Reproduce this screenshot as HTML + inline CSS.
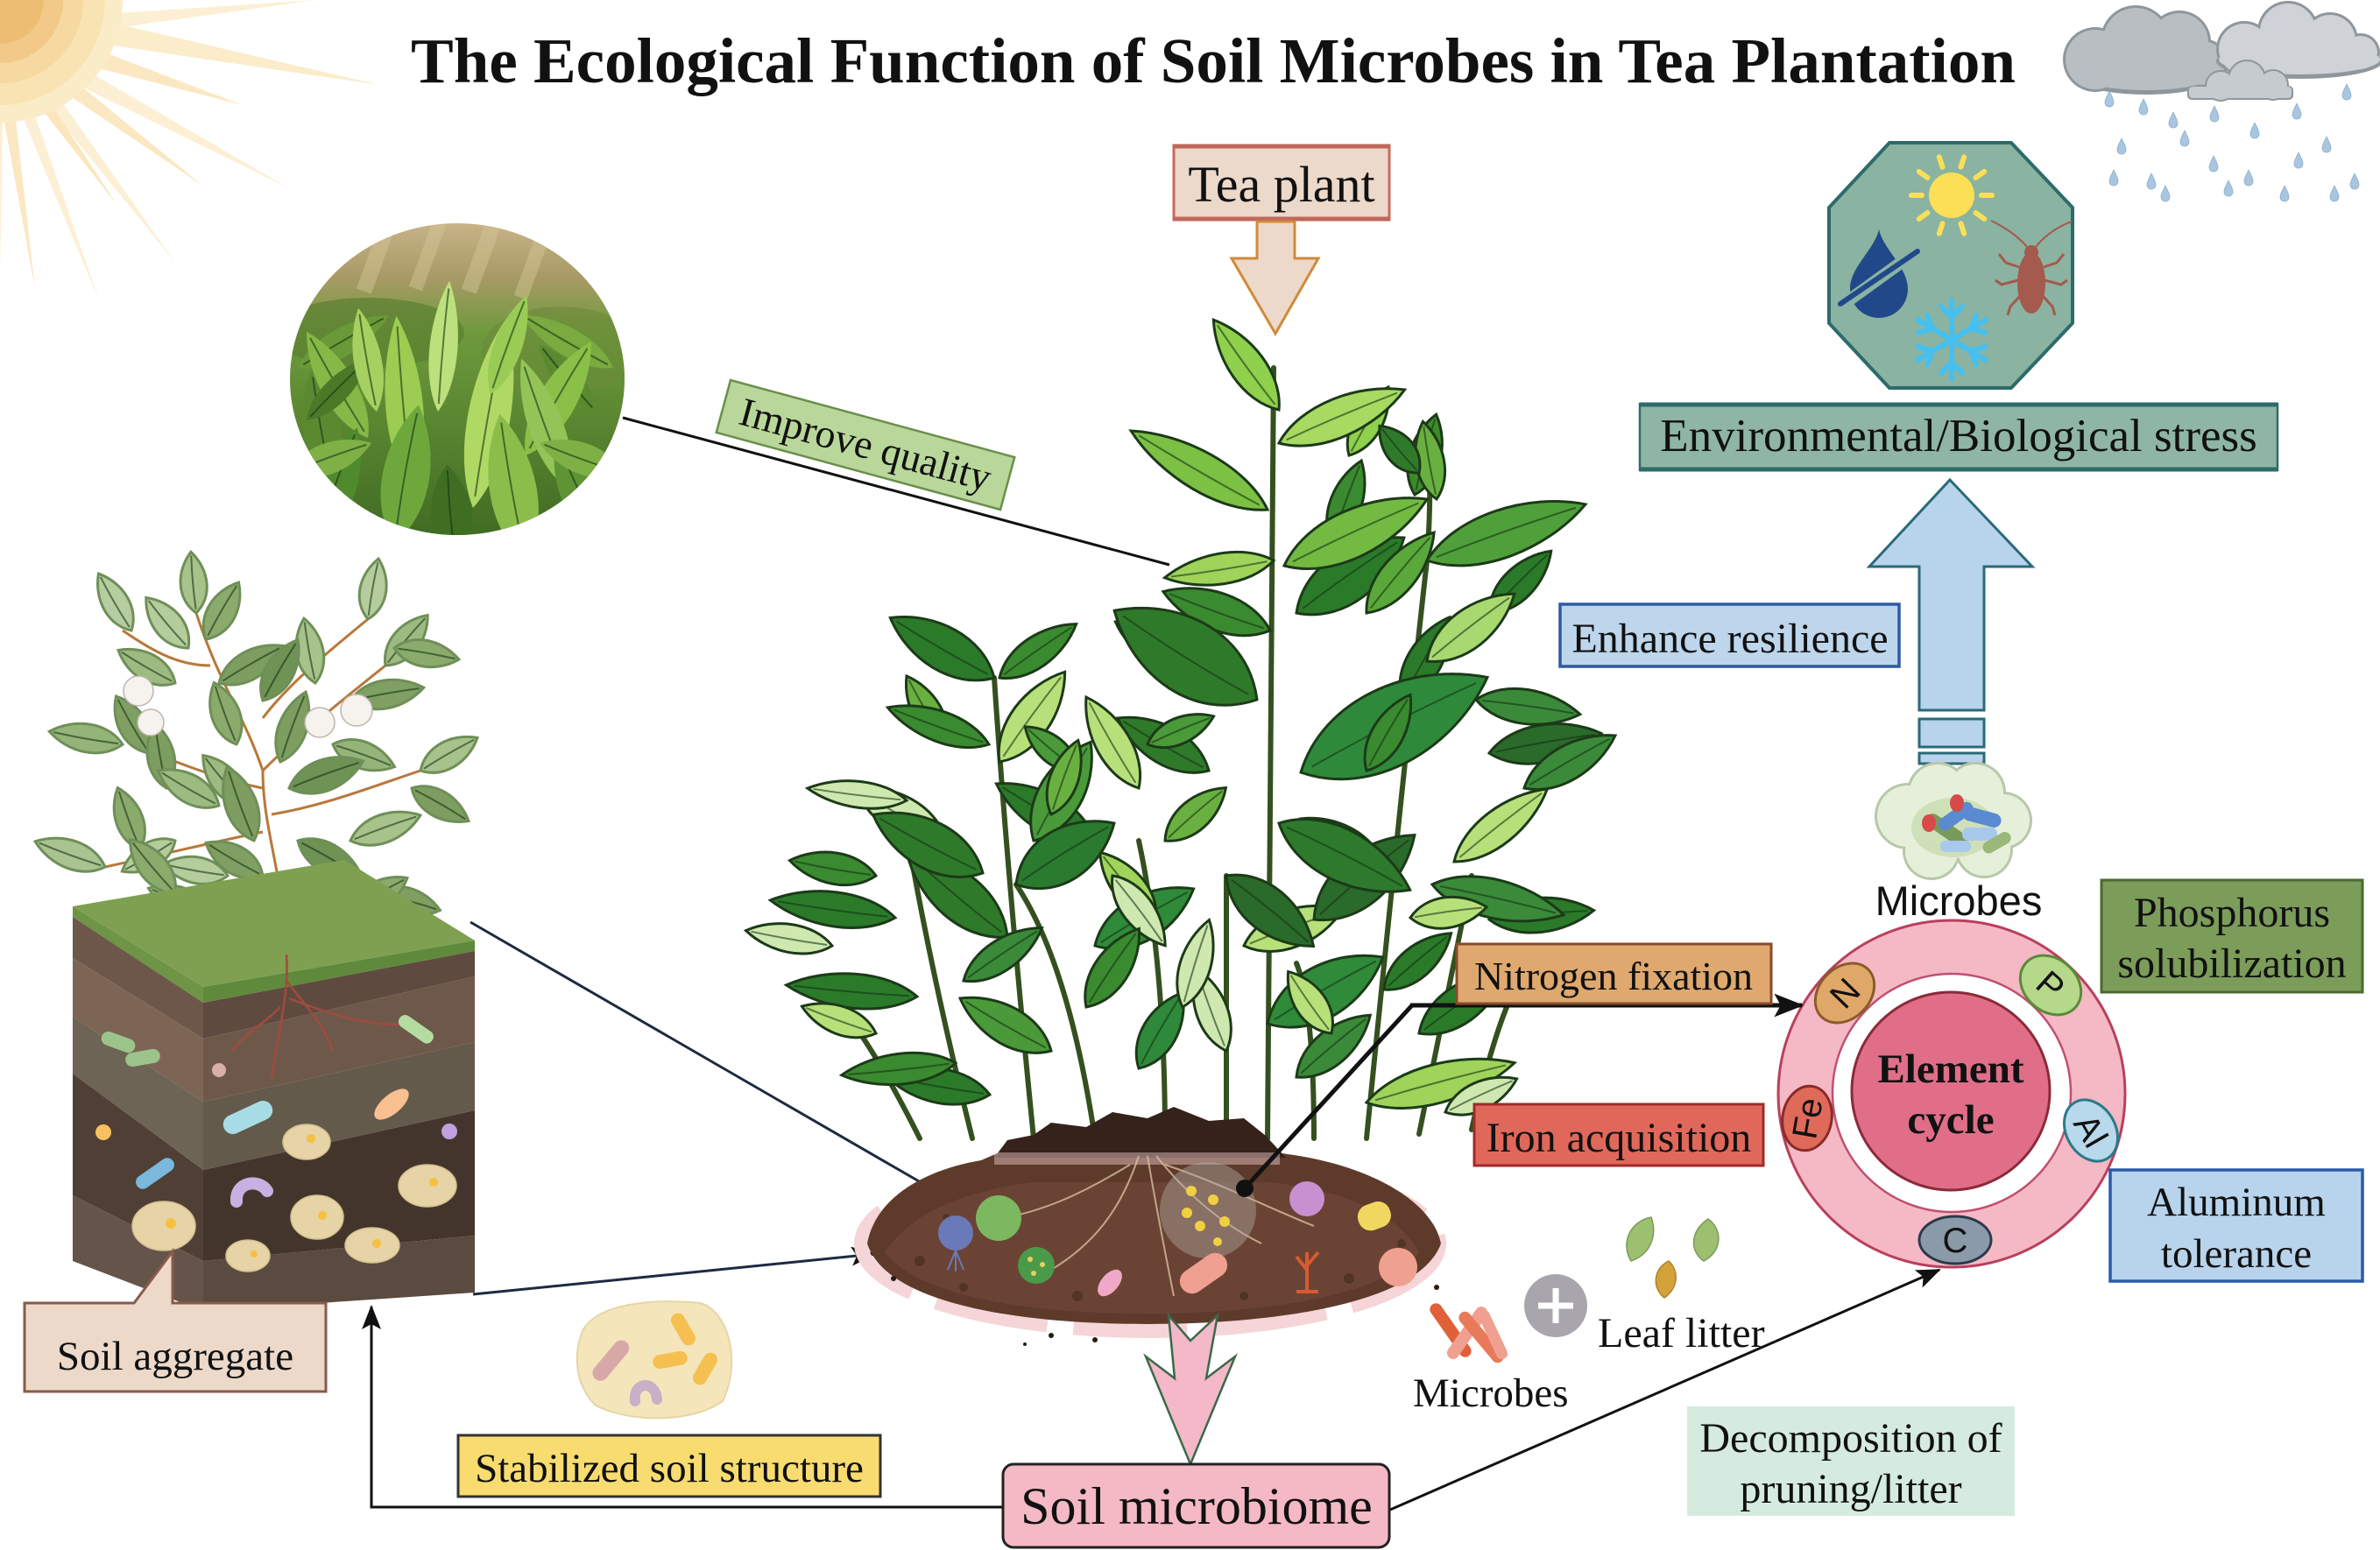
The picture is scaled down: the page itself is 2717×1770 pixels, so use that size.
<!DOCTYPE html>
<html><head><meta charset="utf-8"><title>The Ecological Function of Soil Microbes in Tea Plantation</title>
<style>
html,body{margin:0;padding:0;background:#fff;}
body{width:2717px;height:1770px;overflow:hidden;}
svg{display:block;}
.serif{font-family:"Liberation Serif","Times New Roman",serif;fill:#111;}
.sans{font-family:"Liberation Sans",Arial,sans-serif;fill:#111;}
</style></head>
<body>
<svg width="2717" height="1770" viewBox="0 0 2717 1770" xmlns="http://www.w3.org/2000/svg">
<defs>
  <g id="lf">
    <path d="M0,0 C25,-50 70,-45 100,0 C70,45 25,50 0,0 Z" vector-effect="non-scaling-stroke" stroke-width="3"/>
    <path d="M6,0 Q50,-4 94,0" fill="none" stroke="#163214" stroke-opacity="0.6" stroke-width="2" vector-effect="non-scaling-stroke"/>
  </g>
  <path id="drop" d="M0,-9 C3,-3 5,1 5,4 A5,5 0 0 1 -5,4 C-5,1 -3,-3 0,-9 Z" fill="#a9c6e0" stroke="#8fb0cc" stroke-width="0.8"/>
  <marker id="ah" viewBox="0 0 28 22" markerWidth="28" markerHeight="22" refX="26" refY="11" orient="auto" markerUnits="userSpaceOnUse">
    <path d="M0,0 L28,11 L0,22 L6,11 Z" fill="#111"/>
  </marker>
  <marker id="ah2" viewBox="0 0 28 22" markerWidth="34" markerHeight="28" refX="26" refY="11" orient="auto" markerUnits="userSpaceOnUse">
    <path d="M0,0 L28,11 L0,22 L6,11 Z" fill="#111"/>
  </marker>
  <linearGradient id="photoBg" x1="0" y1="0" x2="0" y2="1">
    <stop offset="0" stop-color="#c9b58a"/>
    <stop offset="0.18" stop-color="#a89a66"/>
    <stop offset="0.35" stop-color="#6e9a3c"/>
    <stop offset="1" stop-color="#3f6a22"/>
  </linearGradient>
  <clipPath id="photoClip"><ellipse cx="522" cy="433" rx="191" ry="178"/></clipPath>
</defs>

<rect width="2717" height="1770" fill="#fff"/>

<!-- SUN -->
<g>
  <polygon fill="#fcefd3" points="60,20 360,0 75,40"/>
  <polygon fill="#fbecca" points="68,12 433,97 62,42"/>
  <polygon fill="#fbe8c2" points="62,38 277,120 50,62"/>
  <polygon fill="#fcefd4" points="55,55 330,215 38,72"/>
  <polygon fill="#fbe8c2" points="48,62 233,213 30,76"/>
  <polygon fill="#fcefd4" points="38,70 200,300 22,80"/>
  <polygon fill="#fbe6bd" points="30,76 133,233 14,82"/>
  <polygon fill="#fcefd4" points="22,80 113,343 6,86"/>
  <polygon fill="#fbe8c2" points="12,84 40,330 -5,85"/>
  <polygon fill="#fcefd4" points="4,86 0,313 -10,86"/>
  <circle cx="0" cy="0" r="140" fill="#fbecc8"/>
  <circle cx="0" cy="0" r="120" fill="#f9e3b2"/>
  <circle cx="0" cy="0" r="95" fill="#f6d9a0"/>
  <circle cx="0" cy="0" r="72" fill="#f2c988"/>
  <circle cx="0" cy="0" r="50" fill="#eebd74"/>
</g>

<!-- CLOUDS -->
<g>
  <g fill="#8f969c">
    <circle cx="2392" cy="68" r="37"/><circle cx="2438" cy="46" r="40"/><circle cx="2488" cy="48" r="36"/><circle cx="2515" cy="72" r="28"/>
    <ellipse cx="2450" cy="82" rx="90" ry="26"/>
  </g>
  <g fill="#b9bec3">
    <circle cx="2392" cy="68" r="34"/><circle cx="2438" cy="46" r="37"/><circle cx="2488" cy="48" r="33"/><circle cx="2515" cy="72" r="25"/>
    <ellipse cx="2450" cy="80" rx="87" ry="23"/>
  </g>
  <g fill="#8f969c">
    <circle cx="2562" cy="56" r="32"/><circle cx="2612" cy="36" r="35"/><circle cx="2660" cy="46" r="32"/><circle cx="2695" cy="60" r="22"/>
    <ellipse cx="2625" cy="70" rx="95" ry="20"/>
  </g>
  <g fill="#cfd3d7">
    <circle cx="2562" cy="56" r="29"/><circle cx="2612" cy="36" r="32"/><circle cx="2660" cy="46" r="29"/><circle cx="2695" cy="60" r="19"/>
    <ellipse cx="2625" cy="68" rx="92" ry="17"/>
  </g>
  <g fill="#8f969c">
    <circle cx="2535" cy="98" r="18"/><circle cx="2565" cy="90" r="22"/><circle cx="2595" cy="97" r="18"/>
    <rect x="2497" y="98" width="121" height="16" rx="5"/>
  </g>
  <g fill="#c6cbcf">
    <circle cx="2535" cy="98" r="16"/><circle cx="2565" cy="90" r="20"/><circle cx="2595" cy="97" r="16"/>
    <rect x="2499" y="99" width="117" height="13" rx="4"/>
  </g>
  <use href="#drop" x="2408" y="113"/><use href="#drop" x="2447" y="122"/><use href="#drop" x="2481" y="137"/>
  <use href="#drop" x="2494" y="158"/><use href="#drop" x="2422" y="167"/><use href="#drop" x="2413" y="203"/>
  <use href="#drop" x="2456" y="207"/><use href="#drop" x="2472" y="221"/><use href="#drop" x="2528" y="130"/>
  <use href="#drop" x="2527" y="187"/><use href="#drop" x="2544" y="215"/><use href="#drop" x="2567" y="203"/>
  <use href="#drop" x="2574" y="149"/><use href="#drop" x="2622" y="127"/><use href="#drop" x="2624" y="183"/>
  <use href="#drop" x="2608" y="221"/><use href="#drop" x="2656" y="165"/><use href="#drop" x="2665" y="221"/>
  <use href="#drop" x="2679" y="105"/><use href="#drop" x="2688" y="207"/>
</g>

<!-- TITLE -->
<text x="1385" y="94" text-anchor="middle" class="serif" font-size="73" font-weight="bold">The Ecological Function of Soil Microbes in Tea Plantation</text>

<!-- TEA PLANT box + arrow -->
<rect x="1340" y="166" width="246" height="85" fill="#ecd9ca" stroke="#c86a5a" stroke-width="3"/>
<line x1="1340" y1="167" x2="1586" y2="167" stroke="#c0665a" stroke-width="5"/>
<line x1="1340" y1="250" x2="1586" y2="250" stroke="#c0665a" stroke-width="5"/>
<text x="1463" y="230" text-anchor="middle" class="serif" font-size="58">Tea plant</text>
<polygon points="1435,253 1478,253 1478,295 1505,295 1456,381 1406,295 1435,295" fill="#ecd9ca" stroke="#d08a3a" stroke-width="3"/>

<!-- PHOTO -->
<g clip-path="url(#photoClip)">
  <rect x="320" y="250" width="410" height="370" fill="url(#photoBg)"/>
  <g opacity="0.45" fill="#d8c79a">
    <rect x="420" y="255" width="18" height="80" transform="rotate(20 429 295)"/>
    <rect x="480" y="252" width="16" height="80" transform="rotate(20 488 292)"/>
    <rect x="540" y="255" width="18" height="80" transform="rotate(20 549 295)"/>
    <rect x="600" y="262" width="16" height="80" transform="rotate(20 608 302)"/>
  </g>
  <ellipse cx="420" cy="380" rx="110" ry="40" fill="#5b7f30" opacity="0.7"/>
  <ellipse cx="640" cy="400" rx="90" ry="50" fill="#6a8a38" opacity="0.6"/>
  <g stroke="none">
    <use href="#lf" transform="translate(340,420) rotate(-30) scale(1.2,0.45)" fill="#6a9a38"/>
    <use href="#lf" transform="translate(700,420) rotate(-150) scale(1.2,0.45)" fill="#7aaa40"/>
    <use href="#lf" transform="translate(380,560) rotate(-100) scale(1.4,0.6)" fill="#5a8a30"/>
    <use href="#lf" transform="translate(420,500) rotate(-120) scale(1.4,0.55)" fill="#86b848"/>
    <use href="#lf" transform="translate(350,480) rotate(-45) scale(1.0,0.4)" fill="#4a7a28"/>
    <use href="#lf" transform="translate(680,470) rotate(-130) scale(1.0,0.4)" fill="#5a8a30"/>
    <use href="#lf" transform="translate(600,520) rotate(-60) scale(1.5,0.6)" fill="#8ac048"/>
    <use href="#lf" transform="translate(470,560) rotate(-95) scale(2.0,0.6)" fill="#9ccc52"/>
    <use href="#lf" transform="translate(540,580) rotate(-80) scale(2.2,0.68)" fill="#b0d864"/>
    <use href="#lf" transform="translate(650,560) rotate(-110) scale(1.6,0.55)" fill="#94c458"/>
    <use href="#lf" transform="translate(500,470) rotate(-85) scale(1.5,0.45)" fill="#bce07c"/>
    <use href="#lf" transform="translate(560,450) rotate(-70) scale(1.2,0.45)" fill="#9acb55"/>
    <use href="#lf" transform="translate(430,470) rotate(-100) scale(1.2,0.45)" fill="#a6d060"/>
    <use href="#lf" transform="translate(450,620) rotate(-80) scale(1.6,0.75)" fill="#6ea83c"/>
    <use href="#lf" transform="translate(600,640) rotate(-100) scale(1.7,0.75)" fill="#8bbd4a"/>
    <use href="#lf" transform="translate(360,620) rotate(-70) scale(1.4,0.65)" fill="#4f8a2c"/>
    <use href="#lf" transform="translate(690,620) rotate(-115) scale(1.3,0.65)" fill="#5f9434"/>
    <use href="#lf" transform="translate(520,640) rotate(-95) scale(1.1,0.65)" fill="#3f6e22"/>
    <use href="#lf" transform="translate(330,540) rotate(-20) scale(1.0,0.5)" fill="#7fb046"/>
    <use href="#lf" transform="translate(710,540) rotate(-160) scale(1.0,0.5)" fill="#7fb046"/>
  </g>
</g>

<!-- Photo -> plant line -->
<line x1="711" y1="477" x2="1335" y2="645" stroke="#111" stroke-width="3"/>
<!-- Improve quality -->
<g transform="translate(988,508) rotate(15.2)">
  <rect x="-168" y="-31" width="336" height="62" fill="#b9d79a" stroke="#6a8f4a" stroke-width="2.5"/>
  <text x="0" y="15" text-anchor="middle" class="serif" font-size="46">Improve quality</text>
</g>

<!-- OCTAGON -->
<polygon points="2157,163 2296,163 2366,237 2366,369 2296,443 2157,443 2088,369 2088,237" fill="#8ab3a2" stroke="#2e6b6b" stroke-width="4"/>
<g stroke="#fbdf57" stroke-width="6" stroke-linecap="round">
  <line x1="2217.5" y1="190.7" x2="2213.8" y2="179.3"/><line x1="2238.5" y1="190.7" x2="2242.2" y2="179.3"/>
  <line x1="2255.5" y1="203" x2="2265.2" y2="196"/><line x1="2262" y1="223" x2="2274" y2="223"/>
  <line x1="2255.5" y1="243" x2="2265.2" y2="250"/><line x1="2238.5" y1="255.3" x2="2242.2" y2="266.7"/>
  <line x1="2217.5" y1="255.3" x2="2213.8" y2="266.7"/><line x1="2200.5" y1="243" x2="2190.8" y2="250"/>
  <line x1="2194" y1="223" x2="2182" y2="223"/><line x1="2200.5" y1="203" x2="2190.8" y2="196"/>
</g>
<circle cx="2228" cy="223" r="26" fill="#fbdf57"/>
<path d="M2145,262 C2150,285 2178,305 2178,330 A33,33 0 0 1 2112,330 C2112,305 2140,285 2145,262 Z" fill="#21498a"/>
<line x1="2098" y1="352" x2="2192" y2="284" stroke="#8ab3a2" stroke-width="14"/>
<line x1="2101" y1="347" x2="2189" y2="287" stroke="#21498a" stroke-width="6" stroke-linecap="round"/>
<g fill="#a45a4c" stroke="#a45a4c">
  <ellipse cx="2319" cy="323" rx="16" ry="35" stroke="none"/>
  <circle cx="2319" cy="288" r="8" stroke="none"/>
  <path d="M2315,283 Q2300,265 2273,252 M2323,283 Q2340,262 2365,253" fill="none" stroke-width="2"/>
  <path d="M2305,305 L2290,300 L2282,290 M2333,305 L2348,300 L2356,290 M2304,320 L2285,325 L2278,320 M2334,320 L2353,325 L2360,320 M2306,338 L2295,350 L2292,360 M2332,338 L2343,350 L2346,360" fill="none" stroke-width="3"/>
</g>
<g stroke="#45c0f0" stroke-width="6" stroke-linecap="round" fill="none">
  <line x1="2228" y1="343" x2="2228" y2="433"/>
  <line x1="2189" y1="365" x2="2267" y2="411"/>
  <line x1="2189" y1="411" x2="2267" y2="365"/>
  <path d="M2216,350 L2228,362 L2240,350 M2216,426 L2228,414 L2240,426"/>
  <path d="M2190,380 L2206,375 L2200,360 M2266,396 L2250,401 L2256,416"/>
  <path d="M2190,396 L2206,401 L2200,416 M2266,380 L2250,375 L2256,360"/>
</g>

<!-- ENV STRESS -->
<rect x="1872" y="461" width="728" height="76" fill="#8fb5a5" stroke="#2e6b6b" stroke-width="2.5"/>
<line x1="1872" y1="462" x2="2600" y2="462" stroke="#2e6b6b" stroke-width="5"/>
<line x1="1872" y1="536" x2="2600" y2="536" stroke="#2e6b6b" stroke-width="5"/>
<text x="2236" y="515" text-anchor="middle" class="serif" font-size="53">Environmental/Biological stress</text>

<!-- BLUE UP ARROW -->
<polygon points="2226,548 2320,647 2265,647 2265,811 2191,811 2191,647 2134,647" fill="#b8d4ec" stroke="#2a6a78" stroke-width="3"/>
<rect x="2191" y="821" width="74" height="32" fill="#b8d4ec" stroke="#2a6a78" stroke-width="3"/>
<rect x="2191" y="860" width="74" height="12" fill="#b8d4ec" stroke="#2a6a78" stroke-width="3"/>

<!-- Enhance resilience -->
<rect x="1781" y="690" width="387" height="71" fill="#bdd6ec" stroke="#2e5aa0" stroke-width="3.5"/>
<text x="1975" y="745" text-anchor="middle" class="serif" font-size="48">Enhance resilience</text>

<!-- Microbes cluster -->
<g>
  <g fill="#b8c8a8">
    <circle cx="2178" cy="932" r="38"/><circle cx="2212" cy="905" r="35"/><circle cx="2255" cy="905" r="35"/>
    <circle cx="2287" cy="937" r="33"/><circle cx="2265" cy="970" r="33"/><circle cx="2205" cy="972" r="33"/>
  </g>
  <g fill="#e6efda">
    <circle cx="2178" cy="932" r="35"/><circle cx="2212" cy="905" r="32"/><circle cx="2255" cy="905" r="32"/>
    <circle cx="2287" cy="937" r="30"/><circle cx="2265" cy="970" r="30"/><circle cx="2205" cy="972" r="30"/>
    <circle cx="2230" cy="940" r="40"/>
  </g>
  <ellipse cx="2230" cy="945" rx="48" ry="34" fill="#cfe0b8"/>
  <rect x="2195" y="940" width="55" height="16" rx="8" fill="#7a9a5a" transform="rotate(35 2222 948)"/>
  <rect x="2210" y="925" width="45" height="15" rx="7" fill="#5a8ad0" transform="rotate(-35 2232 932)"/>
  <rect x="2240" y="925" width="45" height="16" rx="8" fill="#5a8ad0" transform="rotate(15 2262 933)"/>
  <rect x="2240" y="945" width="40" height="15" rx="7" fill="#a8c8ec"/>
  <rect x="2215" y="960" width="35" height="13" rx="6" fill="#a8c8ec"/>
  <rect x="2262" y="955" width="35" height="14" rx="7" fill="#9ab878" transform="rotate(-30 2280 962)"/>
  <ellipse cx="2202" cy="940" rx="8" ry="10" fill="#d84a4a"/>
  <ellipse cx="2234" cy="917" rx="8" ry="10" fill="#d84a4a"/>
</g>
<text x="2236" y="1045" text-anchor="middle" class="sans" font-size="47">Microbes</text>

<!-- ELEMENT RING -->
<circle cx="2228" cy="1249" r="198" fill="#f4b9c4" stroke="#b8405c" stroke-width="3"/>
<circle cx="2228" cy="1248" r="136" fill="#fff" stroke="#c05070" stroke-width="2.5"/>
<circle cx="2227" cy="1246" r="113" fill="#e06e88" stroke="#8b2a3a" stroke-width="3"/>
<text x="2227" y="1236" text-anchor="middle" class="serif" font-size="47" font-weight="bold">Element</text>
<text x="2227" y="1294" text-anchor="middle" class="serif" font-size="47" font-weight="bold">cycle</text>
<g font-family="Liberation Sans, Arial, sans-serif" font-size="40" fill="#111" text-anchor="middle">
  <ellipse cx="2106" cy="1134" rx="38" ry="29" transform="rotate(-46 2106 1134)" fill="#e0a868" stroke="#8a5a2a" stroke-width="3"/>
  <text transform="translate(2106,1134) rotate(-46)" y="14">N</text>
  <ellipse cx="2341" cy="1125" rx="38" ry="30" transform="rotate(42 2341 1125)" fill="#b5d88a" stroke="#5a8a3a" stroke-width="3"/>
  <text transform="translate(2341,1125) rotate(42)" y="14">P</text>
  <ellipse cx="2063" cy="1277" rx="37" ry="28" transform="rotate(-80 2063 1277)" fill="#e06a5a" stroke="#8a2a2a" stroke-width="3"/>
  <text transform="translate(2063,1277) rotate(-80)" y="14">Fe</text>
  <ellipse cx="2387" cy="1291" rx="37" ry="28" transform="rotate(60 2387 1291)" fill="#b8d8ec" stroke="#2a7a8a" stroke-width="3"/>
  <text transform="translate(2387,1291) rotate(60)" y="14">Al</text>
  <ellipse cx="2232" cy="1416" rx="41" ry="27" fill="#8a9aa8" stroke="#2a3a4a" stroke-width="3"/>
  <text x="2232" y="1430">C</text>
</g>

<!-- Phosphorus -->
<rect x="2399" y="1005" width="298" height="128" fill="#7c9c5a" stroke="#4a6a30" stroke-width="3"/>
<text x="2548" y="1058" text-anchor="middle" class="serif" font-size="48">Phosphorus</text>
<text x="2548" y="1116" text-anchor="middle" class="serif" font-size="48">solubilization</text>
<!-- Aluminum -->
<rect x="2409" y="1336" width="288" height="127" fill="#b8d4ec" stroke="#2a5aa8" stroke-width="3.5"/>
<text x="2553" y="1388" text-anchor="middle" class="serif" font-size="47">Aluminum</text>
<text x="2553" y="1447" text-anchor="middle" class="serif" font-size="47">tolerance</text>

<!-- SOIL BLOCK -->
<g>
  <g fill="none" stroke="#b8783a" stroke-width="3">
    <path d="M327,1095 C325,1000 300,950 300,880"/>
    <path d="M300,880 C280,820 250,780 224,700"/>
    <path d="M300,880 C340,840 390,800 440,760"/>
    <path d="M300,900 C250,890 200,870 150,850"/>
    <path d="M300,950 C250,960 190,975 120,990"/>
    <path d="M310,930 C370,920 420,900 480,880"/>
    <path d="M300,820 C330,780 380,740 420,707"/>
    <path d="M240,760 C200,760 170,740 140,720"/>
  </g>
  <g stroke="#6f8f58">
    <use href="#lf" transform="translate(224,700) rotate(-95) scale(0.7,0.42)" fill="#a7c28b"/>
    <use href="#lf" transform="translate(235,730) rotate(-60) scale(0.75,0.45)" fill="#8aab6c"/>
    <use href="#lf" transform="translate(215,740) rotate(-130) scale(0.75,0.45)" fill="#b5cc9c"/>
    <use href="#lf" transform="translate(250,780) rotate(-30) scale(0.85,0.45)" fill="#7d9e60"/>
    <use href="#lf" transform="translate(200,780) rotate(-150) scale(0.75,0.43)" fill="#9dbb80"/>
    <use href="#lf" transform="translate(150,720) rotate(-120) scale(0.75,0.42)" fill="#b6cda0"/>
    <use href="#lf" transform="translate(140,850) rotate(-170) scale(0.85,0.45)" fill="#94b47a"/>
    <use href="#lf" transform="translate(170,860) rotate(-120) scale(0.75,0.45)" fill="#7fa062"/>
    <use href="#lf" transform="translate(120,990) rotate(-160) scale(0.85,0.45)" fill="#a9c391"/>
    <use href="#lf" transform="translate(160,970) rotate(-110) scale(0.75,0.43)" fill="#8aab6c"/>
    <use href="#lf" transform="translate(200,960) rotate(150) scale(0.7,0.4)" fill="#b5cc9c"/>
    <use href="#lf" transform="translate(440,760) rotate(-50) scale(0.75,0.43)" fill="#9dbb80"/>
    <use href="#lf" transform="translate(420,707) rotate(-80) scale(0.7,0.42)" fill="#b5cc9c"/>
    <use href="#lf" transform="translate(450,740) rotate(10) scale(0.75,0.42)" fill="#8aab6c"/>
    <use href="#lf" transform="translate(480,880) rotate(-30) scale(0.75,0.43)" fill="#a7c28b"/>
    <use href="#lf" transform="translate(470,900) rotate(30) scale(0.75,0.42)" fill="#7d9e60"/>
    <use href="#lf" transform="translate(400,800) rotate(-10) scale(0.85,0.45)" fill="#7fa062"/>
    <use href="#lf" transform="translate(380,850) rotate(20) scale(0.75,0.43)" fill="#94b47a"/>
    <use href="#lf" transform="translate(340,960) rotate(30) scale(0.85,0.46)" fill="#6f9255"/>
    <use href="#lf" transform="translate(350,1000) rotate(10) scale(0.75,0.43)" fill="#8aab6c"/>
    <use href="#lf" transform="translate(300,1000) rotate(-150) scale(0.75,0.45)" fill="#7fa062"/>
    <use href="#lf" transform="translate(280,920) rotate(-130) scale(0.75,0.43)" fill="#9dbb80"/>
    <use href="#lf" transform="translate(320,870) rotate(-70) scale(0.85,0.45)" fill="#7d9e60"/>
    <use href="#lf" transform="translate(270,850) rotate(-110) scale(0.75,0.45)" fill="#8aab6c"/>
    <use href="#lf" transform="translate(360,780) rotate(-100) scale(0.75,0.43)" fill="#a7c28b"/>
    <use href="#lf" transform="translate(300,800) rotate(-60) scale(0.8,0.45)" fill="#6f9255"/>
    <use href="#lf" transform="translate(190,900) rotate(-100) scale(0.75,0.43)" fill="#7d9e60"/>
    <use href="#lf" transform="translate(260,1000) rotate(-170) scale(0.75,0.42)" fill="#b5cc9c"/>
    <use href="#lf" transform="translate(400,960) rotate(-20) scale(0.85,0.45)" fill="#a7c28b"/>
    <use href="#lf" transform="translate(430,1020) rotate(15) scale(0.75,0.43)" fill="#7fa062"/>
    <use href="#lf" transform="translate(240,1040) rotate(-160) scale(0.75,0.4)" fill="#94b47a"/>
    <use href="#lf" transform="translate(400,1040) rotate(-30) scale(0.75,0.42)" fill="#8aab6c"/>
    <use href="#lf" transform="translate(330,900) rotate(-20) scale(0.9,0.5)" fill="#6f9255"/>
    <use href="#lf" transform="translate(290,960) rotate(-110) scale(0.9,0.5)" fill="#7d9e60"/>
    <use href="#lf" transform="translate(250,920) rotate(-150) scale(0.8,0.45)" fill="#9dbb80"/>
    <use href="#lf" transform="translate(360,1040) rotate(40) scale(0.8,0.45)" fill="#6f9255"/>
    <use href="#lf" transform="translate(200,1020) rotate(-130) scale(0.8,0.45)" fill="#8aab6c"/>
  </g>
  <g fill="#f6f3ee" stroke="#bdb6ae" stroke-width="1.5">
    <circle cx="158" cy="789" r="17"/><circle cx="172" cy="825" r="15"/><circle cx="365" cy="825" r="17"/><circle cx="407" cy="811" r="18"/>
  </g>
  <polygon points="83,1035 232,1127 542,1074 393,982" fill="#7ea050"/>
  <polygon points="83,1035 232,1127 232,1145 83,1047" fill="#6e9445"/>
  <polygon points="232,1127 542,1074 542,1086 232,1145" fill="#5f8a3c"/>
  <polygon points="83,1047 232,1145 232,1186 83,1094" fill="#6d574a"/>
  <polygon points="83,1094 232,1186 232,1258 83,1161" fill="#7d6555"/>
  <polygon points="83,1161 232,1258 232,1336 83,1226" fill="#6d6455"/>
  <polygon points="83,1226 232,1336 232,1440 83,1365" fill="#4f3f35"/>
  <polygon points="83,1365 232,1440 232,1497 83,1440" fill="#65544a"/>
  <polygon points="232,1145 542,1086 542,1115 232,1186" fill="#5f4a3f"/>
  <polygon points="232,1186 542,1115 542,1190 232,1258" fill="#6e5849"/>
  <polygon points="232,1258 542,1190 542,1268 232,1336" fill="#645a4c"/>
  <polygon points="232,1336 542,1268 542,1411 232,1440" fill="#44352c"/>
  <polygon points="232,1440 542,1411 542,1476 232,1497" fill="#5a4a3f"/>
  <g fill="none" stroke="#a04a40" stroke-width="2.5">
    <path d="M327,1090 C330,1130 320,1170 310,1230"/>
    <path d="M327,1120 C350,1150 370,1170 380,1200"/>
    <path d="M320,1150 C300,1170 280,1180 265,1200"/>
    <path d="M330,1140 C380,1160 420,1170 455,1170"/>
  </g>
  <g fill="#e6d3a6" stroke="#d4c08e" stroke-width="1.5">
    <ellipse cx="187" cy="1400" rx="36" ry="28"/>
    <ellipse cx="350" cy="1304" rx="27" ry="20"/>
    <ellipse cx="362" cy="1390" rx="30" ry="25"/>
    <ellipse cx="488" cy="1354" rx="33" ry="24"/>
    <ellipse cx="425" cy="1422" rx="31" ry="20"/>
    <ellipse cx="283" cy="1434" rx="25" ry="18"/>
  </g>
  <g fill="#f6c040">
    <circle cx="195" cy="1397" r="6"/><circle cx="355" cy="1300" r="5"/><circle cx="368" cy="1388" r="5"/><circle cx="495" cy="1350" r="5"/><circle cx="430" cy="1420" r="5"/><circle cx="290" cy="1432" r="4"/>
  </g>
  <rect x="253" y="1265" width="60" height="22" rx="11" fill="#a8dce4" transform="rotate(-25 283 1276)"/>
  <rect x="152" y="1332" width="50" height="16" rx="8" fill="#7ab8dc" transform="rotate(-35 177 1340)"/>
  <rect x="115" y="1182" width="40" height="16" rx="8" fill="#9cc48a" transform="rotate(20 135 1190)"/>
  <rect x="143" y="1200" width="40" height="16" rx="8" fill="#9cc48a" transform="rotate(-10 163 1208)"/>
  <rect x="452" y="1168" width="45" height="15" rx="7" fill="#b4dca0" transform="rotate(35 475 1176)"/>
  <path d="M270,1372 C268,1350 295,1345 305,1360" fill="none" stroke="#c8b0e0" stroke-width="14" stroke-linecap="round"/>
  <ellipse cx="447" cy="1261" rx="24" ry="11" fill="#f8c090" transform="rotate(-40 447 1261)"/>
  <circle cx="250" cy="1222" r="8" fill="#d8b0a8"/>
  <circle cx="118" cy="1293" r="9" fill="#f8c060"/>
  <circle cx="513" cy="1292" r="9" fill="#c0a0e0"/>
</g>

<!-- Soil aggregate callout -->
<path d="M28,1488 L153,1488 L197,1429 L197,1488 L372,1488 L372,1589 L28,1589 Z" fill="#ecd9ca" stroke="#8a5a4a" stroke-width="3"/>
<text x="200" y="1564" text-anchor="middle" class="serif" font-size="47">Soil aggregate</text>

<!-- MAIN PLANT stems -->
<g fill="none" stroke="#34501f" stroke-width="6" stroke-linecap="round">
  <path d="M1447,1300 Q1450,900 1454,420"/>
  <path d="M1180,1300 Q1150,1000 1135,774"/>
  <path d="M1110,1300 Q1060,1100 1030,920"/>
  <path d="M1250,1300 Q1220,1100 1160,1010"/>
  <path d="M1330,1300 Q1330,1100 1300,960"/>
  <path d="M1560,1300 Q1600,900 1629,640"/>
  <path d="M1620,1295 Q1660,1100 1680,1000"/>
  <path d="M1500,1300 Q1500,1150 1480,1100"/>
  <path d="M1050,1300 Q1000,1200 960,1150"/>
  <path d="M1400,1300 Q1400,1100 1400,1000"/>
  <path d="M1680,1290 Q1700,1200 1720,1150"/>
  <path d="M1629,640 Q1635,560 1630,500"/>
</g>
<g stroke="#1c3a18">
  <!-- back layer fill leaves -->
  <use href="#lf" transform="translate(1480,700) rotate(-35) scale(1.5,0.8)" fill="#2a7a2a"/>
  <use href="#lf" transform="translate(1450,720) rotate(-160) scale(1.3,0.6)" fill="#3a8a30"/>
  <use href="#lf" transform="translate(1560,700) rotate(-50) scale(1.2,0.55)" fill="#5aa83a"/>
  <use href="#lf" transform="translate(1700,860) rotate(-10) scale(1.3,0.6)" fill="#2a6a2a"/>
  <use href="#lf" transform="translate(1740,900) rotate(-30) scale(1.2,0.55)" fill="#3a8a3a"/>
  <use href="#lf" transform="translate(1380,880) rotate(-150) scale(1.2,0.6)" fill="#2f7a2a"/>
  <use href="#lf" transform="translate(1300,900) rotate(-120) scale(1.2,0.55)" fill="#b8e07a"/>
  <use href="#lf" transform="translate(1250,960) rotate(-150) scale(1.3,0.6)" fill="#2a7a2a"/>
  <use href="#lf" transform="translate(1180,960) rotate(-60) scale(1.3,0.7)" fill="#4a9a3a"/>
  <use href="#lf" transform="translate(1080,960) rotate(-150) scale(1.2,0.6)" fill="#cfe8b0"/>
  <use href="#lf" transform="translate(1000,1000) rotate(-170) scale(1.0,0.5)" fill="#3a8a30"/>
  <use href="#lf" transform="translate(1150,1070) rotate(-140) scale(1.5,0.75)" fill="#2e7a2a"/>
  <use href="#lf" transform="translate(1250,1080) rotate(-30) scale(1.3,0.7)" fill="#2f8a3a"/>
  <use href="#lf" transform="translate(1320,1050) rotate(-130) scale(1.0,0.5)" fill="#9fd35a"/>
  <use href="#lf" transform="translate(1420,1080) rotate(-20) scale(1.2,0.6)" fill="#b8e07a"/>
  <use href="#lf" transform="translate(1500,1050) rotate(-40) scale(1.5,0.8)" fill="#2a6a2a"/>
  <use href="#lf" transform="translate(1580,990) rotate(-150) scale(1.1,0.55)" fill="#6ab040"/>
  <use href="#lf" transform="translate(1700,1050) rotate(-5) scale(1.2,0.55)" fill="#2a7a2a"/>
  <use href="#lf" transform="translate(1200,1200) rotate(-150) scale(1.2,0.6)" fill="#4a9a3a"/>
  <use href="#lf" transform="translate(1130,1250) rotate(-170) scale(1.2,0.55)" fill="#2a7a2a"/>
  <use href="#lf" transform="translate(1300,1220) rotate(-60) scale(1.0,0.55)" fill="#2e8a3a"/>
  <use href="#lf" transform="translate(1400,1200) rotate(-110) scale(1.0,0.5)" fill="#cfe8b0"/>
  <use href="#lf" transform="translate(1480,1230) rotate(-40) scale(1.1,0.55)" fill="#3a8a3a"/>
  <use href="#lf" transform="translate(1620,1180) rotate(-35) scale(1.2,0.6)" fill="#2a7a2a"/>
  <use href="#lf" transform="translate(1360,760) rotate(-150) scale(1.0,0.5)" fill="#4a9a3a"/>
  <use href="#lf" transform="translate(1600,800) rotate(-60) scale(1.1,0.55)" fill="#2a7a2a"/>
  <use href="#lf" transform="translate(1080,850) rotate(-120) scale(0.9,0.45)" fill="#6ab040"/>
  <use href="#lf" transform="translate(950,1080) rotate(-170) scale(1.0,0.45)" fill="#cfe8b0"/>
  <use href="#lf" transform="translate(1520,620) rotate(-70) scale(1.0,0.5)" fill="#3a8a30"/>
  <use href="#lf" transform="translate(1700,700) rotate(-45) scale(1.0,0.5)" fill="#2a7a2a"/>
  <use href="#lf" transform="translate(1540,520) rotate(-60) scale(0.9,0.45)" fill="#8fd04c"/>
  <!-- front layer -->
  <use href="#lf" transform="translate(1460,468) rotate(-126) scale(1.27,0.56)" fill="#8fd04c"/>
  <use href="#lf" transform="translate(1460,506) rotate(-23) scale(1.56,0.62)" fill="#a8da62"/>
  <use href="#lf" transform="translate(1447,582) rotate(-150) scale(1.8,0.62)" fill="#7cc044"/>
  <use href="#lf" transform="translate(1454,640) rotate(171) scale(1.26,0.49)" fill="#9fd35a"/>
  <use href="#lf" transform="translate(1466,646) rotate(-25) scale(1.8,0.76)" fill="#72ba42"/>
  <use href="#lf" transform="translate(1615,565) rotate(-75) scale(0.95,0.5)" fill="#3d8a2a"/>
  <use href="#lf" transform="translate(1640,570) rotate(-100) scale(0.9,0.45)" fill="#6ab040"/>
  <use href="#lf" transform="translate(1620,540) rotate(-130) scale(0.7,0.45)" fill="#2f7a2a"/>
  <use href="#lf" transform="translate(1629,640) rotate(-19.5) scale(1.92,0.76)" fill="#4fa03a"/>
  <use href="#lf" transform="translate(1435,799) rotate(-148) scale(1.92,1.18)" fill="#2f7a2a"/>
  <use href="#lf" transform="translate(1629,755) rotate(-37.6) scale(1.26,0.62)" fill="#a8d870"/>
  <use href="#lf" transform="translate(1685,799) rotate(8) scale(1.2,0.55)" fill="#3a8a3a"/>
  <use href="#lf" transform="translate(1485,882) rotate(-27) scale(2.39,1.25)" fill="#2e8a3a"/>
  <use href="#lf" transform="translate(1135,774) rotate(-150) scale(1.37,0.7)" fill="#2a7a2a"/>
  <use href="#lf" transform="translate(1141,774) rotate(-35) scale(1.07,0.49)" fill="#3a8a30"/>
  <use href="#lf" transform="translate(1141,870) rotate(-54) scale(1.27,0.62)" fill="#b8e07a"/>
  <use href="#lf" transform="translate(1129,850) rotate(-160) scale(1.23,0.49)" fill="#3a8a30"/>
  <use href="#lf" transform="translate(1035,914) rotate(-173) scale(1.14,0.42)" fill="#cfe8b0"/>
  <use href="#lf" transform="translate(1122,997) rotate(-152) scale(1.42,0.76)" fill="#2e7a2a"/>
  <use href="#lf" transform="translate(1160,1010) rotate(-32) scale(1.32,0.83)" fill="#2a7a30"/>
  <use href="#lf" transform="translate(1022,1048) rotate(-172) scale(1.44,0.55)" fill="#2a7a2a"/>
  <use href="#lf" transform="translate(1310,850) rotate(-23) scale(0.82,0.42)" fill="#4a9a3a"/>
  <use href="#lf" transform="translate(1230,880) rotate(-140) scale(0.78,0.42)" fill="#4a9a3a"/>
  <use href="#lf" transform="translate(1200,930) rotate(-70) scale(0.9,0.45)" fill="#6ab040"/>
  <use href="#lf" transform="translate(1330,960) rotate(-41) scale(0.92,0.49)" fill="#6ab040"/>
  <use href="#lf" transform="translate(1560,880) rotate(-60) scale(1.0,0.5)" fill="#3a8a30"/>
  <use href="#lf" transform="translate(1460,940) rotate(27) scale(1.68,0.83)" fill="#2d7a2d"/>
  <use href="#lf" transform="translate(1270,1000) rotate(53) scale(1.0,0.49)" fill="#cfe8b0"/>
  <use href="#lf" transform="translate(1400,1000) rotate(39) scale(1.28,0.7)" fill="#2a6a2a"/>
  <use href="#lf" transform="translate(1660,984) rotate(-38) scale(1.35,0.55)" fill="#b8e07a"/>
  <use href="#lf" transform="translate(1635,1010) rotate(13) scale(1.54,0.62)" fill="#3a8a3a"/>
  <use href="#lf" transform="translate(1610,1048) rotate(-8) scale(0.88,0.49)" fill="#b8e07a"/>
  <use href="#lf" transform="translate(1047,1138) rotate(-175) scale(1.5,0.55)" fill="#2a7a2a"/>
  <use href="#lf" transform="translate(1100,1120) rotate(-34) scale(1.08,0.49)" fill="#3a8a3a"/>
  <use href="#lf" transform="translate(1000,1180) rotate(-160) scale(0.9,0.45)" fill="#b8e07a"/>
  <use href="#lf" transform="translate(1580,1130) rotate(-40) scale(1.0,0.5)" fill="#2a7a2a"/>
  <use href="#lf" transform="translate(1447,1169) rotate(-30) scale(1.52,0.83)" fill="#2f8a3a"/>
  <use href="#lf" transform="translate(1240,1150) rotate(-56) scale(1.08,0.55)" fill="#3a8a30"/>
  <use href="#lf" transform="translate(1350,1150) rotate(-73) scale(1.04,0.49)" fill="#cfe8b0"/>
  <use href="#lf" transform="translate(1520,1180) rotate(-125) scale(0.86,0.49)" fill="#b8e07a"/>
  <use href="#lf" transform="translate(1091,1214) rotate(174) scale(1.31,0.49)" fill="#3a8a30"/>
  <use href="#lf" transform="translate(1560,1259) rotate(-15) scale(1.75,0.62)" fill="#9fd35a"/>
  <use href="#lf" transform="translate(1650,1270) rotate(-25) scale(0.9,0.45)" fill="#cfe8b0"/>
</g>

<!-- Block connector lines -->
<line x1="537" y1="1053" x2="1056" y2="1353" stroke="#1f2a40" stroke-width="3"/>
<line x1="540" y1="1478" x2="998" y2="1432" stroke="#1f2a40" stroke-width="3" marker-end="url(#ah)"/>

<!-- SOIL PILE -->
<ellipse cx="1313" cy="1420" rx="330" ry="100" fill="none" stroke="#f5d5d8" stroke-width="16" stroke-dasharray="130 30"/>
<path d="M990,1420 C1000,1365 1060,1335 1120,1325 L1150,1312 L1180,1318 L1210,1300 L1250,1308 L1290,1296 L1340,1305 L1380,1298 L1420,1310 L1470,1318 C1560,1330 1635,1370 1645,1420 C1620,1490 1450,1512 1310,1512 C1150,1512 1010,1485 990,1420 Z" fill="#5e3a2b"/>
<path d="M1010,1430 C1040,1385 1100,1360 1180,1350 L1450,1350 C1540,1360 1600,1390 1620,1430 C1580,1480 1440,1500 1310,1500 C1170,1500 1050,1480 1010,1430 Z" fill="#74493a" opacity="0.6"/>
<path d="M1135,1322 L1150,1302 L1180,1296 L1200,1282 L1240,1287 L1270,1270 L1310,1277 L1340,1264 L1380,1280 L1420,1277 L1445,1297 L1468,1322 Z" fill="#35221a"/>
<rect x="1135" y="1316" width="326" height="14" fill="#f0d0d0" opacity="0.45"/>
<g fill="none" stroke="#d8c0a0" stroke-width="2" opacity="0.8">
  <path d="M1300,1320 C1280,1380 1250,1420 1200,1450"/>
  <path d="M1310,1320 C1320,1380 1330,1430 1340,1480"/>
  <path d="M1320,1320 C1360,1370 1400,1400 1440,1420"/>
  <path d="M1290,1330 C1240,1360 1200,1380 1150,1390"/>
  <path d="M1330,1330 C1390,1350 1450,1380 1500,1400"/>
</g>
<g fill="#3a2418" opacity="0.5">
  <circle cx="1050" cy="1440" r="6"/><circle cx="1100" cy="1470" r="5"/><circle cx="1230" cy="1480" r="6"/><circle cx="1420" cy="1480" r="5"/><circle cx="1540" cy="1460" r="6"/><circle cx="1600" cy="1420" r="5"/><circle cx="1080" cy="1390" r="4"/>
</g>
<g fill="#2a1a12">
  <circle cx="1200" cy="1525" r="3"/><circle cx="1250" cy="1530" r="3"/><circle cx="1020" cy="1460" r="3"/><circle cx="1640" cy="1470" r="3"/><circle cx="1170" cy="1535" r="2"/>
</g>
<circle cx="1379" cy="1382" r="55" fill="#b0a8a0" opacity="0.45"/>
<g fill="#f0d040"><circle cx="1360" cy="1360" r="6"/><circle cx="1385" cy="1370" r="6"/><circle cx="1398" cy="1395" r="6"/><circle cx="1370" cy="1400" r="6"/><circle cx="1355" cy="1385" r="6"/><circle cx="1390" cy="1418" r="5"/></g>
<circle cx="1140" cy="1391" r="26" fill="#7cb860"/>
<circle cx="1091" cy="1408" r="20" fill="#6a7ab8"/>
<path d="M1091,1428 L1082,1450 M1091,1428 L1100,1450 M1091,1428 L1091,1452" stroke="#6a7ab8" stroke-width="2"/>
<circle cx="1183" cy="1445" r="21" fill="#4a9a4a"/>
<g fill="#e8d060"><circle cx="1176" cy="1438" r="3"/><circle cx="1190" cy="1444" r="3"/><circle cx="1180" cy="1454" r="3"/></g>
<ellipse cx="1267" cy="1465" rx="10" ry="18" fill="#f0a8c8" transform="rotate(40 1267 1465)"/>
<rect x="1344" y="1440" width="60" height="28" rx="14" fill="#f0a090" transform="rotate(-35 1374 1454)"/>
<circle cx="1492" cy="1369" r="20" fill="#c890d0"/>
<rect x="1550" y="1374" width="38" height="30" rx="14" fill="#f0d860" transform="rotate(-20 1568 1389)"/>
<path d="M1492,1475 L1492,1430 M1492,1450 L1480,1435 M1492,1445 L1505,1430 M1480,1475 L1505,1475" stroke="#d85a30" stroke-width="4" fill="none"/>
<circle cx="1596" cy="1447" r="22" fill="#f0a090"/>

<!-- Pink down arrow -->
<polygon points="1334,1502 1359,1531 1390,1502 1377,1574 1410,1549 1359,1672 1308,1549 1341,1574" fill="#f4b8c8" stroke="#3a6a4a" stroke-width="2.5"/>

<!-- Nitrogen / iron lines -->
<line x1="1612" y1="1148" x2="1421" y2="1357" stroke="#111" stroke-width="5"/>
<circle cx="1421" cy="1357" r="10" fill="#111"/>
<line x1="1610" y1="1148" x2="2057" y2="1148" stroke="#111" stroke-width="5" marker-end="url(#ah2)"/>

<rect x="1663" y="1078" width="359" height="68" fill="#dea86e" stroke="#8a4a2a" stroke-width="3"/>
<text x="1842" y="1130" text-anchor="middle" class="serif" font-size="46">Nitrogen fixation</text>
<rect x="1683" y="1261" width="330" height="70" fill="#e0685a" stroke="#a02a2a" stroke-width="3"/>
<text x="1848" y="1315" text-anchor="middle" class="serif" font-size="48">Iron acquisition</text>

<!-- Leaf litter / microbes -->
<g>
  <rect x="1620" y="1512" width="72" height="14" rx="7" fill="#e0603a" transform="rotate(55 1656 1519)"/>
  <rect x="1640" y="1515" width="70" height="14" rx="7" fill="#f0a090" transform="rotate(-55 1675 1522)"/>
  <rect x="1655" y="1520" width="72" height="14" rx="7" fill="#e87a5a" transform="rotate(50 1691 1527)"/>
  <rect x="1675" y="1518" width="60" height="13" rx="6" fill="#f0a090" transform="rotate(65 1705 1524)"/>
</g>
<circle cx="1776" cy="1491" r="36" fill="#a9a5ad"/>
<path d="M1776,1471 L1776,1511 M1756,1491 L1796,1491" stroke="#fff" stroke-width="7"/>
<path d="M1862,1440 C1850,1420 1860,1395 1885,1390 C1892,1410 1885,1432 1862,1440 Z" fill="#9cc070" stroke="#7a9a58" stroke-width="1.5"/>
<path d="M1945,1440 C1965,1430 1968,1405 1950,1392 C1930,1405 1928,1428 1945,1440 Z" fill="#9cc070" stroke="#7a9a58" stroke-width="1.5"/>
<path d="M1900,1482 C1885,1470 1888,1448 1905,1440 C1918,1452 1915,1472 1900,1482 Z" fill="#d4a23a" stroke="#b0802a" stroke-width="1.5"/>
<text x="1824" y="1538" class="serif" font-size="48">Leaf litter</text>
<text x="1613" y="1606" class="serif" font-size="47">Microbes</text>

<!-- Aggregate icon -->
<path d="M665,1520 C680,1490 740,1482 800,1488 C835,1500 845,1560 825,1600 C790,1625 720,1625 680,1605 C655,1580 655,1545 665,1520 Z" fill="#f4e5bb" stroke="#e6d6a6" stroke-width="2"/>
<rect x="670" y="1545" width="55" height="18" rx="9" fill="#d8a8a8" transform="rotate(-50 697 1554)"/>
<rect x="760" y="1510" width="40" height="16" rx="8" fill="#f6c050" transform="rotate(60 780 1518)"/>
<rect x="745" y="1545" width="40" height="16" rx="8" fill="#f6c050" transform="rotate(-10 765 1553)"/>
<rect x="785" y="1555" width="40" height="16" rx="8" fill="#f6c050" transform="rotate(-60 805 1563)"/>
<path d="M725,1600 C722,1578 748,1575 750,1598" fill="none" stroke="#c8b0c8" stroke-width="12" stroke-linecap="round"/>

<!-- Stabilized soil structure -->
<rect x="523" y="1639" width="482" height="70" fill="#f8dc70" stroke="#333" stroke-width="3"/>
<text x="764" y="1692" text-anchor="middle" class="serif" font-size="47">Stabilized soil structure</text>

<!-- Soil microbiome connectors -->
<polyline points="1145,1721 424,1721 424,1492" fill="none" stroke="#111" stroke-width="3" marker-end="url(#ah)"/>
<line x1="1587" y1="1724" x2="2214" y2="1450" stroke="#111" stroke-width="3" marker-end="url(#ah)"/>
<rect x="1145" y="1672" width="441" height="95" rx="12" fill="#f4b9c4" stroke="#222" stroke-width="3"/>
<text x="1366" y="1740" text-anchor="middle" class="serif" font-size="60">Soil microbiome</text>

<!-- Decomposition -->
<rect x="1926" y="1606" width="374" height="125" fill="#d5ebe0"/>
<text x="2113" y="1658" text-anchor="middle" class="serif" font-size="48">Decomposition of</text>
<text x="2113" y="1716" text-anchor="middle" class="serif" font-size="48">pruning/litter</text>
</svg>
</body></html>
